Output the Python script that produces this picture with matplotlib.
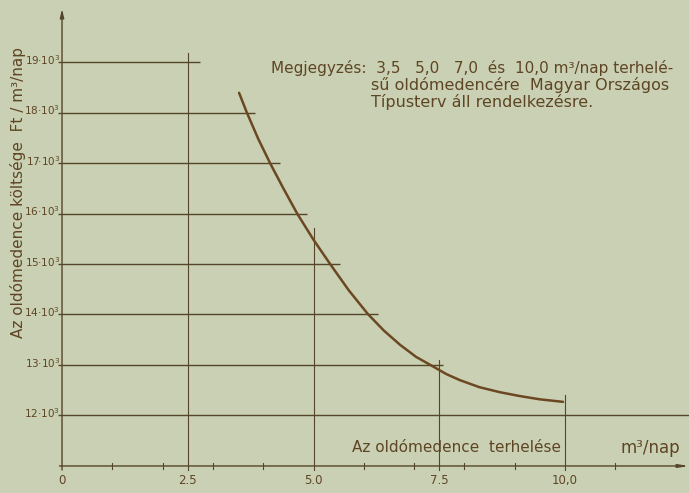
import matplotlib
matplotlib.use("Agg")
import matplotlib.pyplot as plt

# Cost of a dissolving tank (thousand Ft per m3/day) vs. daily load (m3/day)
load = [3.52, 3.67, 3.90, 4.14, 4.41, 4.68, 5.00, 5.33, 5.70, 6.08,
        6.40, 6.72, 7.04, 7.36, 7.64, 7.91, 8.30, 8.71, 9.10, 9.50, 9.96]
cost = [18.39, 18.01, 17.48, 16.99, 16.48, 15.99, 15.48, 15.00, 14.48, 14.01,
        13.68, 13.40, 13.16, 12.98, 12.82, 12.70, 12.56, 12.46, 12.385, 12.32, 12.27]

y_levels = [12, 13, 14, 15, 16, 17, 18, 19]
y_tick_labels = [f"{v}·10$^3$" for v in y_levels]
# how far each horizontal guide runs to the right
h_line_ends = [12.47, 7.57, 6.28, 5.53, 4.87, 4.33, 3.84, 2.74]

x_major = [0, 2.5, 5.0, 7.5, 10.0]
x_tick_labels = ["0", "2.5", "5.0", "7.5", "10,0"]
# how far each vertical guide runs upward
v_line_tops = [None, 19.18, 15.71, 13.10, 12.41]
x_minor = [1, 2, 3, 4, 6, 7, 8, 9, 11]

note_lines = [
    "Megjegyzés:  3,5   5,0   7,0  és  10,0 m³/nap terhelé-",
    "sű oldómedencére  Magyar Országos",
    "Típusterv áll rendelkezésre.",
]

paper = "#c9d0b3"
ink = "#55452a"
pen = "#6c4822"
txt = "#5e4524"
font = ["DejaVu Sans"]

fig = plt.figure(figsize=(6.89, 4.93), dpi=100, facecolor=paper)
ax = fig.add_axes([0, 0, 1, 1], facecolor=paper)
ax.set_xlim(-1.233, 12.465)
ax.set_ylim(10.465, 20.228)
ax.set_xticks([])
ax.set_yticks([])
for s in ax.spines.values():
    s.set_visible(False)

# horizontal guides with the value labels on the left
for yv, xe, lab in zip(y_levels, h_line_ends, y_tick_labels):
    ax.plot([-0.08, xe], [yv, yv], color=ink, lw=1.0, solid_capstyle="butt")
    ax.text(-0.04, yv + 0.04, lab, ha="right", va="center", fontsize=7.5,
            color=txt, family=font)

# vertical guides
for xv, top in zip(x_major, v_line_tops):
    if top is not None:
        ax.plot([xv, xv], [10.92, top], color=ink, lw=0.8)

# axes with arrows
ax.annotate("", xy=(0, 20.05), xytext=(0, 10.92),
            arrowprops=dict(arrowstyle="-|>,head_length=0.5,head_width=0.12",
                            color=ink, lw=1.0, shrinkA=0, shrinkB=0))
ax.annotate("", xy=(12.46, 11.0), xytext=(-0.05, 11.0),
            arrowprops=dict(arrowstyle="-|>,head_length=0.6,head_width=0.1",
                            color=ink, lw=1.0, shrinkA=0, shrinkB=0))

# small tick marks on the load axis
for xv in x_minor:
    ax.plot([xv, xv], [10.95, 11.05], color=ink, lw=0.8)

for xv, lab in zip(x_major, x_tick_labels):
    ax.text(xv, 10.71, lab, ha="center", va="center", fontsize=8.5,
            color=txt, family=font)

# cost curve
ax.plot(load, cost, color=pen, lw=1.8, solid_capstyle="round",
        solid_joinstyle="round")

# axis titles
ax.text(-0.875, 16.42, "Az oldómedence költsége  Ft / m³/nap", rotation=90,
        ha="center", va="center", fontsize=11, color=txt, family=font)
ax.text(7.85, 11.36, "Az oldómedence  terhelése", ha="center", va="center",
        fontsize=11, color=txt, family=font)
ax.text(11.69, 11.36, "m³/nap", ha="center", va="center",
        fontsize=12, color=txt, family=font)

# note
ax.text(4.15, 18.88, note_lines[0], ha="left", va="center", fontsize=11,
        color=txt, family=font)
ax.text(6.15, 18.54, note_lines[1], ha="left", va="center", fontsize=11.5,
        color=txt, family=font)
ax.text(6.15, 18.21, note_lines[2], ha="left", va="center", fontsize=11.5,
        color=txt, family=font)

fig.savefig("out.png", dpi=100, facecolor=paper)
